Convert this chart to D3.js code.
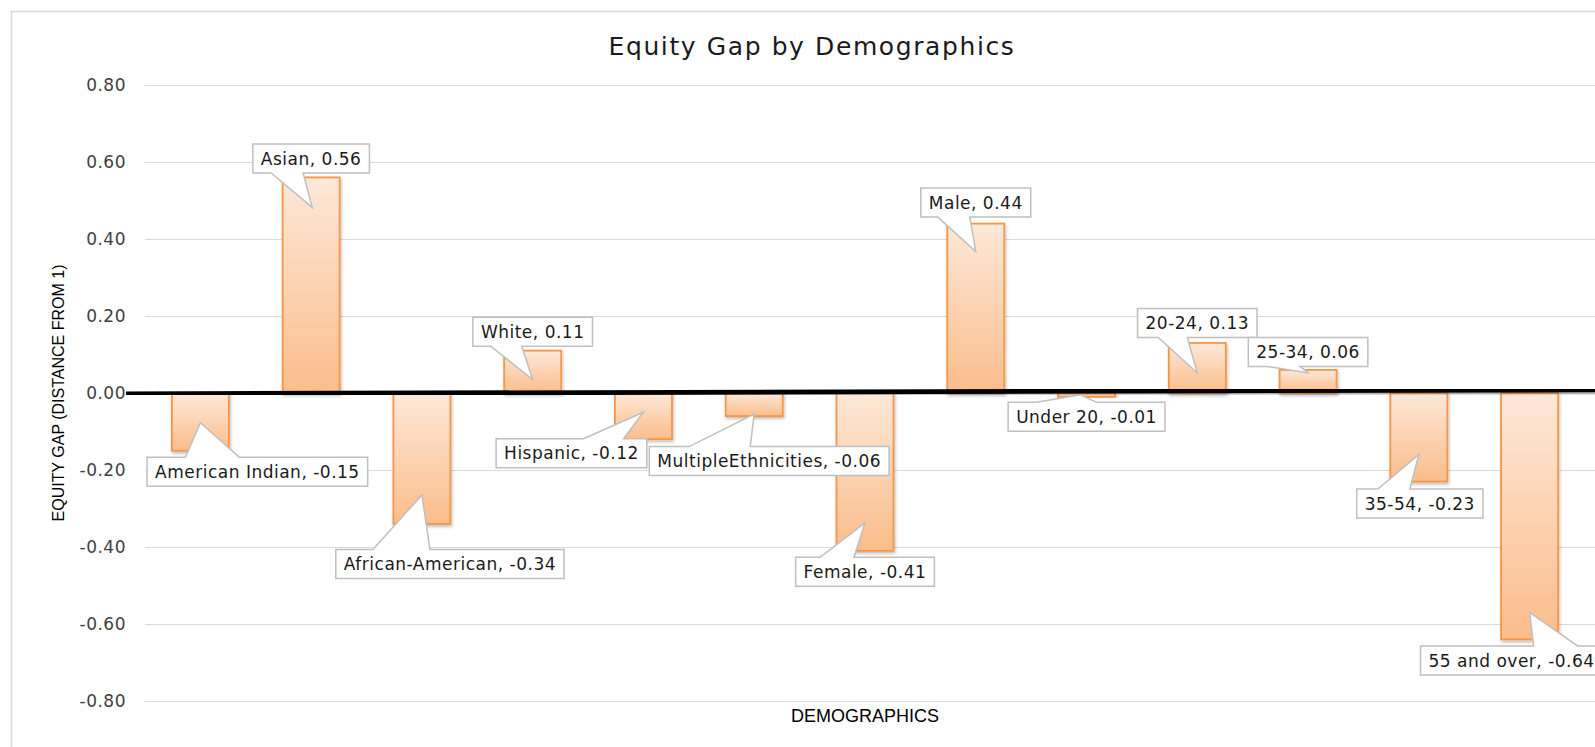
<!DOCTYPE html>
<html>
<head>
<meta charset="utf-8">
<script src="https://cdn.jsdelivr.net/npm/d3@7"></script>
<style>
	body { margin: 0; background: #fff; overflow: hidden; }
	svg { display: block; }
	.tick text { font-family: 'DejaVu Sans', sans-serif; font-size: 17px; letter-spacing: 0.5px; fill: #404040; }
	.callout text { font-family: 'DejaVu Sans', sans-serif; font-size: 17px; letter-spacing: 0.5px; fill: #1a1a1a; }
	.axis-title { font-family: 'Liberation Sans Narrow', 'Liberation Sans', sans-serif; fill: #000; }
</style>
</head>
<body>
<div id="chart"></div>
<script>
let width = 1595
let height = 747

// data
let categories = ['American Indian', 'Asian', 'African-American', 'White', 'Hispanic', 'MultipleEthnicities',
	'Female', 'Male', 'Under 20', '20-24', '25-34', '35-54', '55 and over']
let gaps = [-0.15, 0.56, -0.34, 0.11, -0.12, -0.06, -0.41, 0.44, -0.01, 0.13, 0.06, -0.23, -0.64]
let tickValues = [0.8, 0.6, 0.4, 0.2, 0, -0.2, -0.4, -0.6, -0.8]

// callout layout: box centre offset from bar end, pointer tip offset from bar end, pointer base (relative to box centre x)
let boxOffsets = [[57, 21], [0, -19], [28, 40], [0, -19], [-72, 14], [15, 45], [0, 21], [0, -21], [0, 20], [0, -20], [0, -18], [1, 22], [-18, 21]]
let tipOffsets = [[0, -28], [1, 30], [0, -29], [0, 29], [0, -27], [0, -2], [0, -28], [0, 28], [-6, -2], [0, 30], [0, 3], [0, -27], [0, -27]]
let pointerBases = [[-72, -18], [-40, -8], [-77, -20], [-42, -11], [12, 52], [-80, -19], [-45, -11], [-38, -6], [-50, 10], [-39, -10], [-41, -8], [-42, -10], [22, 66]]

let margins = { top: 85, bottom: 46, left: 145, right: 10 }

// excel style numbers: plain hyphen for negatives
let fmt = d3.formatLocale({ decimal: '.', thousands: ',', grouping: [3], currency: ['$', ''], minus: '-' }).format('.2f')

let xScale = d3.scaleBand()
	.domain(categories)
	.range([margins.left, width - margins.right])
	.paddingInner(0.485)
	.paddingOuter(0.2425)

let yScale = d3.scaleLinear()
	.domain([-0.8, 0.8])
	.range([height - margins.bottom, margins.top])

let svg = d3.select('#chart').append('svg')
	.attr('width', width)
	.attr('height', height)

let defs = svg.append('defs')

let grad = defs.append('linearGradient')
	.attr('id', 'barFill')
	.attr('x1', 0).attr('y1', 0).attr('x2', 0).attr('y2', 1)
grad.append('stop').attr('offset', '0%').attr('stop-color', '#fde8d8')
grad.append('stop').attr('offset', '100%').attr('stop-color', '#fbbd8b')

let shadow = defs.append('filter')
	.attr('id', 'shadow')
	.attr('x', '-20%').attr('y', '-20%').attr('width', '140%').attr('height', '140%')
shadow.append('feDropShadow')
	.attr('dx', 1).attr('dy', 2)
	.attr('stdDeviation', 1.5)
	.attr('flood-color', '#000')
	.attr('flood-opacity', 0.25)

// outer chart border (runs off the window on the right/bottom)
svg.append('rect')
	.attr('x', 11.5).attr('y', 11.5)
	.attr('width', width + 100).attr('height', height + 100)
	.attr('fill', 'none')
	.attr('stroke', '#d9d9d9')
	.attr('stroke-width', 1.5)

svg.append('text')
	.text('Equity Gap by Demographics')
	.attr('x', 812)
	.attr('y', 55)
	.attr('text-anchor', 'middle')
	.style('font-family', "'DejaVu Sans', sans-serif")
	.style('font-size', '25px')
	.style('letter-spacing', '1.6px')
	.style('fill', '#1a1a1a')

// gridlines
let grid = svg.append('g')
	.attr('transform', `translate(${margins.left},0)`)
	.call(d3.axisLeft(yScale).tickValues(tickValues).tickSize(-(width - margins.left)).tickFormat(''))
grid.select('.domain').remove()
grid.selectAll('line').attr('stroke', '#d9d9d9').attr('stroke-width', 1)

// tick labels
let yAxis = svg.append('g')
	.attr('transform', `translate(126,0)`)
	.call(d3.axisLeft(yScale).tickValues(tickValues).tickSize(0).tickPadding(0).tickFormat(fmt))
yAxis.select('.domain').remove()

// bars
svg.append('g')
	.selectAll('rect')
	.data(gaps)
	.enter()
	.append('rect')
	.attr('x', (d, i) => xScale(categories[i]))
	.attr('width', xScale.bandwidth())
	.attr('y', (d) => yScale(Math.max(0, d)))
	.attr('height', (d) => Math.abs(yScale(d) - yScale(0)))
	.attr('fill', 'url(#barFill)')
	.attr('stroke', '#f79646')
	.attr('stroke-width', 1.8)
	.attr('filter', 'url(#shadow)')

// thick zero line, drawn over the bars
svg.append('line')
	.attr('x1', 126).attr('x2', width + 5)
	.attr('y1', yScale(0) + 0.8).attr('y2', yScale(0) - 3.2)
	.attr('stroke', '#000')
	.attr('stroke-width', 4.8)
	.attr('filter', 'url(#shadow)')

// axis titles
svg.append('text')
	.attr('class', 'axis-title')
	.text('EQUITY GAP (DISTANCE FROM 1)')
	.attr('text-anchor', 'middle')
	.style('font-size', '16px')
	.attr('transform', `translate(64,${yScale(0)}) rotate(-90)`)

svg.append('text')
	.attr('class', 'axis-title')
	.text('DEMOGRAPHICS')
	.attr('text-anchor', 'middle')
	.style('font-size', '18px')
	.attr('x', (margins.left + width - margins.right) / 2)
	.attr('y', 722)

// callout data labels
let callouts = svg.append('g')

gaps.forEach((d, i) => {
	let cx = xScale(categories[i]) + xScale.bandwidth() / 2
	let ey = yScale(d)
	let bx = cx + boxOffsets[i][0]
	let by = ey + boxOffsets[i][1]
	let tx = cx + tipOffsets[i][0]
	let ty = ey + tipOffsets[i][1]

	let g = callouts.append('g').attr('class', 'callout')
	let path = g.append('path')
	let label = g.append('text')
		.text(`${categories[i]}, ${fmt(d)}`)
		.attr('x', bx)
		.attr('y', by)
		.attr('dy', '0.36em')
		.attr('text-anchor', 'middle')

	let w = label.node().getComputedTextLength() + 16
	let h = 29
	let x1 = bx - w / 2, x2 = bx + w / 2
	let y1 = by - h / 2, y2 = by + h / 2
	let b1 = bx + pointerBases[i][0], b2 = bx + pointerBases[i][1]

	let p
	if (ty < by) {
		// pointer on the top edge
		p = `M${x1},${y1}L${b1},${y1}L${tx},${ty}L${b2},${y1}L${x2},${y1}L${x2},${y2}L${x1},${y2}Z`
	} else {
		p = `M${x1},${y1}L${x2},${y1}L${x2},${y2}L${b2},${y2}L${tx},${ty}L${b1},${y2}L${x1},${y2}Z`
	}
	path.attr('d', p)
		.attr('fill', '#fff')
		.attr('stroke', '#bfbfbf')
		.attr('stroke-width', 1.5)
		.attr('stroke-linejoin', 'miter')
})
</script>
</body>
</html>
